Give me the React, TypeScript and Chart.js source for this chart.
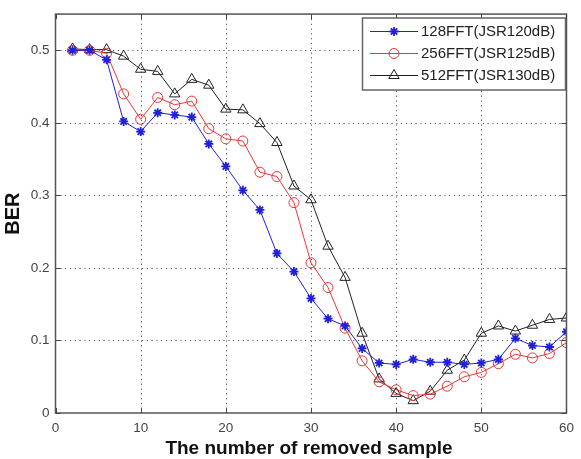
import React, { useEffect, useRef } from 'react';
import { Chart, registerables } from 'chart.js';
import { drawPoint } from 'chart.js/helpers';

Chart.register(...registerables);

// Number of removed samples (x) and bit error rate for each FFT size
const removedSamples = [2, 4, 6, 8, 10, 12, 14, 16, 18, 20, 22, 24, 26, 28, 30, 32, 34, 36, 38, 40, 42, 44, 46, 48, 50, 52, 54, 56, 58, 60];
const ber128 = [0.500, 0.500, 0.487, 0.402, 0.388, 0.414, 0.411, 0.408, 0.371, 0.340, 0.307, 0.280, 0.220, 0.195, 0.158, 0.130, 0.120, 0.089, 0.069, 0.067, 0.074, 0.070, 0.070, 0.067, 0.069, 0.074, 0.103, 0.093, 0.091, 0.112];
const ber256 = [0.500, 0.500, 0.496, 0.440, 0.405, 0.435, 0.425, 0.430, 0.392, 0.378, 0.375, 0.332, 0.326, 0.290, 0.207, 0.173, 0.117, 0.072, 0.043, 0.032, 0.024, 0.026, 0.037, 0.050, 0.056, 0.068, 0.081, 0.076, 0.082, 0.097];
const ber512 = [0.502, 0.501, 0.501, 0.492, 0.474, 0.471, 0.440, 0.460, 0.452, 0.419, 0.418, 0.399, 0.373, 0.313, 0.294, 0.230, 0.187, 0.110, 0.047, 0.027, 0.017, 0.030, 0.059, 0.073, 0.110, 0.120, 0.113, 0.121, 0.129, 0.131];
const seriesLabels = ['128FFT(JSR120dB)', '256FFT(JSR125dB)', '512FFT(JSR130dB)'];
const xTicks = [0, 10, 20, 30, 40, 50, 60];
const yTicks = [0, 0.1, 0.2, 0.3, 0.4, 0.5];
const xTitle = 'The number of removed sample';
const yTitle = 'BER';

const FONT = '"Liberation Sans", Arial, sans-serif';

const toPoints = (ys: number[]) => removedSamples.map((x, i) => ({ x, y: ys[i] }));

// MATLAB-style axes: dotted grid, boxed frame with inward ticks, in-plot legend, bold titles
const matlabAxes = {
  id: 'matlabAxes',
  beforeDatasetsDraw(chart: any) {
    const { ctx, chartArea: a, scales } = chart;
    ctx.save();
    ctx.strokeStyle = '#555';
    ctx.lineWidth = 1;
    ctx.setLineDash([1.2, 3.6]);
    xTicks.slice(1, -1).forEach((v) => {
      const px = Math.round(scales.x.getPixelForValue(v)) + 0.5;
      ctx.beginPath();
      ctx.moveTo(px, a.top);
      ctx.lineTo(px, a.bottom);
      ctx.stroke();
    });
    yTicks.slice(1).forEach((v) => {
      const py = Math.round(scales.y.getPixelForValue(v)) + 0.5;
      ctx.beginPath();
      ctx.moveTo(a.left, py);
      ctx.lineTo(a.right, py);
      ctx.stroke();
    });
    ctx.restore();
  },
  afterDatasetsDraw(chart: any) {
    const { ctx, chartArea: a, scales } = chart;
    ctx.save();
    // frame
    ctx.strokeStyle = '#555';
    ctx.lineWidth = 1.5;
    ctx.setLineDash([]);
    ctx.strokeRect(a.left, a.top, a.right - a.left, a.bottom - a.top);
    // inward ticks
    const tl = 5;
    ctx.lineWidth = 1;
    ctx.strokeStyle = '#444';
    xTicks.forEach((v) => {
      const px = Math.round(scales.x.getPixelForValue(v)) + 0.5;
      ctx.beginPath();
      ctx.moveTo(px, a.bottom);
      ctx.lineTo(px, a.bottom - tl);
      ctx.moveTo(px, a.top);
      ctx.lineTo(px, a.top + tl);
      ctx.stroke();
    });
    yTicks.forEach((v) => {
      const py = Math.round(scales.y.getPixelForValue(v)) + 0.5;
      ctx.beginPath();
      ctx.moveTo(a.left, py);
      ctx.lineTo(a.left + tl, py);
      ctx.moveTo(a.right, py);
      ctx.lineTo(a.right - tl, py);
      ctx.stroke();
    });

    // legend box
    const bx = 362.5, by = 18, bw = 203, bh = 72;
    ctx.fillStyle = '#fff';
    ctx.fillRect(bx, by, bw, bh);
    ctx.strokeStyle = '#666';
    ctx.lineWidth = 1.5;
    ctx.strokeRect(bx, by, bw, bh);
    chart.data.datasets.forEach((ds: any, i: number) => {
      const y = 31.5 + 22 * i;
      ctx.strokeStyle = ds.borderColor;
      ctx.lineWidth = 1;
      ctx.beginPath();
      ctx.moveTo(370, y);
      ctx.lineTo(418, y);
      ctx.stroke();
      ctx.fillStyle = ds.pointBackgroundColor;
      ctx.strokeStyle = ds.pointBorderColor;
      ctx.lineWidth = ds.pointBorderWidth;
      drawPoint(ctx, { pointStyle: ds.pointStyle, radius: ds.pointRadius, borderWidth: ds.pointBorderWidth, rotation: 0 }, 394, y);
      ctx.fillStyle = '#222';
      ctx.font = `15px ${FONT}`;
      ctx.textAlign = 'left';
      ctx.textBaseline = 'middle';
      ctx.fillText(ds.label, 421, y + 0.5);
    });

    // axis titles
    ctx.fillStyle = '#111';
    ctx.font = `bold 19px ${FONT}`;
    ctx.textAlign = 'center';
    ctx.textBaseline = 'alphabetic';
    ctx.fillText(xTitle, (a.left + a.right) / 2 - 2, 454);
    ctx.save();
    ctx.translate(19, (a.top + a.bottom) / 2);
    ctx.rotate(-Math.PI / 2);
    ctx.font = `bold 20px ${FONT}`;
    ctx.fillText(yTitle, 0, 0);
    ctx.restore();
    ctx.restore();
  },
};

export default function App() {
  const canvasRef = useRef<HTMLCanvasElement | null>(null);

  useEffect(() => {
    if (!canvasRef.current) return;
    const chart = new Chart(canvasRef.current, {
      type: 'line',
      data: {
        datasets: [
          {
            label: seriesLabels[0],
            data: toPoints(ber128),
            borderColor: '#2020d8',
            borderWidth: 1,
            pointStyle: 'star',
            pointRadius: 4.5,
            pointBorderWidth: 1.8,
            pointBorderColor: '#2020d8',
            pointBackgroundColor: '#2020d8',
          },
          {
            label: seriesLabels[1],
            data: toPoints(ber256),
            borderColor: '#e03a3a',
            borderWidth: 1,
            pointStyle: 'circle',
            pointRadius: 5,
            pointBorderWidth: 1,
            pointBorderColor: '#e03a3a',
            pointBackgroundColor: 'rgba(255,255,255,0)',
          },
          {
            label: seriesLabels[2],
            data: toPoints(ber512),
            borderColor: '#222',
            borderWidth: 1,
            pointStyle: 'triangle',
            pointRadius: 6,
            pointBorderWidth: 1,
            pointBorderColor: '#222',
            pointBackgroundColor: 'rgba(255,255,255,0)',
          },
        ],
      },
      options: {
        responsive: false,
        animation: false,
        layout: { padding: { top: 9, right: 9, left: 0, bottom: 0 } },
        plugins: { legend: { display: false }, tooltip: { enabled: false } },
        scales: {
          x: {
            type: 'linear',
            min: 0,
            max: 60,
            afterBuildTicks: (s: any) => { s.ticks = xTicks.map((value) => ({ value })); },
            afterFit: (s: any) => { s.height = 46; },
            grid: { display: false, drawTicks: false },
            border: { display: false },
            ticks: {
              padding: 7,
              color: '#444',
              font: { family: FONT, size: 13.5 },
              maxRotation: 0,
              callback: (v: any) => String(v),
            },
          },
          y: {
            type: 'linear',
            min: 0,
            max: 0.55,
            afterBuildTicks: (s: any) => { s.ticks = yTicks.map((value) => ({ value })); },
            afterFit: (s: any) => { s.width = 55.5; },
            grid: { display: false, drawTicks: false },
            border: { display: false },
            ticks: {
              padding: 6,
              color: '#444',
              font: { family: FONT, size: 13.5 },
              callback: (v: any) => (v === 0 ? '0' : Number(v).toFixed(1)),
            },
          },
        },
      },
      plugins: [matlabAxes],
    });
    return () => chart.destroy();
  }, []);

  return (
    <div style={{ position: 'fixed', left: 0, top: 0, width: 581, height: 459, background: '#fff' }}>
      <canvas ref={canvasRef} width={581} height={459} style={{ display: 'block' }} />
    </div>
  );
}
